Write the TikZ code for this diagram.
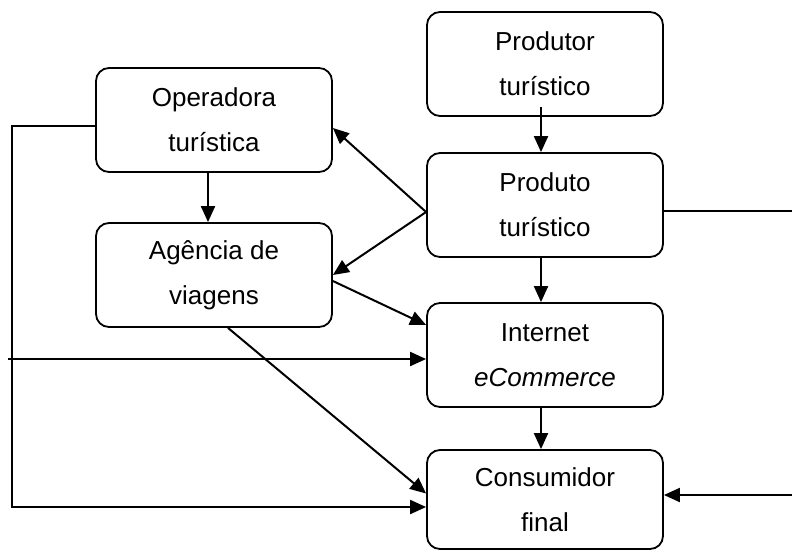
\documentclass[tikz,border=0pt]{standalone}
\usepackage{fontspec}
\setmainfont{Liberation Sans}
\usetikzlibrary{arrows.meta,calc}
\begin{document}
\begin{tikzpicture}[x=1pt,y=-1pt,
  box/.style={draw,line width=1.8pt,rounded corners=13pt,minimum width=236pt,minimum height=104pt,align=center,inner sep=0pt,font=\fontsize{26}{45}\selectfont},
  conn/.style={line width=2pt},
  arr/.style={conn,-{Triangle[length=16pt,width=14pt]}}]
\useasboundingbox (0,0) rectangle (792,550);
\node[box] (prod) at (545,64) {Produtor\\turístico};
\node[box] (pto) at (545,205) {Produto\\turístico};
\node[box] (op) at (214,120) {Operadora\\turística};
\node[box] (ag) at (214,275) {Agência de\\viagens};
\node[box] (int) at (545,355) {Internet\\\textit{eCommerce}};
\node[box,minimum height=99pt] (cons) at (545,499.5) {Consumidor\\final};
\coordinate (lin) at (8,359);
\coordinate (lc1) at (12,126);
\coordinate (lc2) at (12,507);
\coordinate (rc1) at (800,211);
\coordinate (rc2) at (800,495);
\draw[arr] ([xshift=-4pt,yshift=10pt]prod.south) -- ([xshift=-4pt]pto.north);
\draw[arr] ([xshift=-4pt]pto.south) -- ([xshift=-4pt]int.north);
\draw[arr] ([xshift=-4pt]int.south) -- ([xshift=-4pt]cons.north);
\draw[arr] ([xshift=-6pt]op.south) -- ([xshift=-6pt]ag.north);
\draw[arr] ([yshift=-7pt]pto.west) -- ([yshift=-8pt]op.east);
\draw[arr] ([yshift=-7pt]pto.west) -- (ag.east);
\draw[arr] ([yshift=-6pt]ag.east) -- ([yshift=30pt]int.west);
\draw[arr] (lin) -- ([yshift=-4pt]int.west);
\draw[arr] ([xshift=14pt]ag.south) -- ([yshift=6pt]cons.west);
\draw[arr] ([yshift=-6pt]op.west) -- (lc1) -- (lc2) -- ([yshift=-7.5pt]cons.west);
\draw[arr] ([yshift=-6pt]pto.east) -- (rc1) -- (rc2) -- ([yshift=4.5pt]cons.east);
\end{tikzpicture}
\end{document}
